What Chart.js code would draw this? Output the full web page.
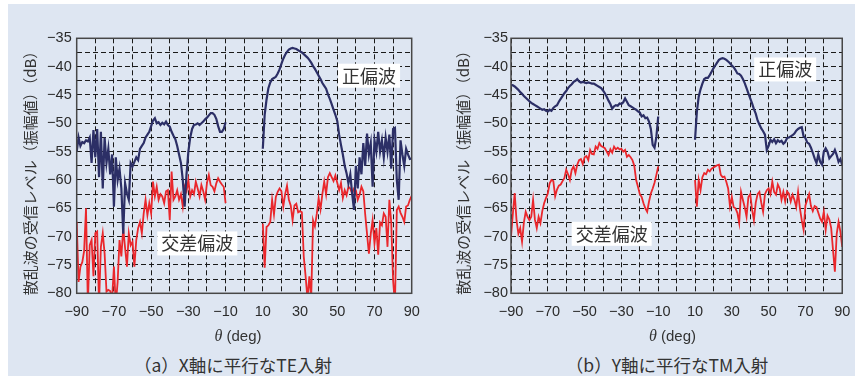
<!DOCTYPE html>
<html lang="ja">
<head>
<meta charset="utf-8">
<title>散乱波の受信レベル</title>
<script src="https://cdn.jsdelivr.net/npm/chart.js@4.4.1/dist/chart.umd.min.js"></script>
<style>
  html, body { margin: 0; padding: 0; background: #ffffff; }
  body { position: relative; width: 860px; height: 378px; overflow: hidden; }
  #backdrop { position: absolute; left: 8px; top: 4px; width: 847px; height: 372px; background: #dee6f2; }
  canvas { position: absolute; top: 4px; }
  #chartA { left: 8px; }
  #chartB { left: 430px; }
  .caption { position: absolute; top: 356px; width: 300px; text-align: center;
             font-family: "Noto Sans CJK JP", sans-serif; font-size: 17.5px; line-height: 18px;
             color: #333333; white-space: nowrap; }
  #capA { left: 83px; }
  #capB { left: 517px; }
</style>
</head>
<body>
<div id="backdrop"></div>
<canvas id="chartA" width="422" height="345"></canvas>
<canvas id="chartB" width="430" height="345"></canvas>
<div class="caption" id="capA">（a）X軸に平行なTE入射</div>
<div class="caption" id="capB">（b）Y軸に平行なTM入射</div>
<script>
// Observation angles (deg); the range -10..10 was not measured
const thetaNeg = [-90,-89,-88,-87,-86,-85,-84,-83,-82,-81,-80,-79,-78,-77,-76,-75,-74,-73,-72,-71,
  -70,-69,-68,-67,-66,-65,-64,-63,-62,-61,-60,-59,-58,-57,-56,-55,-54,-53,-52,-51,
  -50,-49,-48,-47,-46,-45,-44,-43,-42,-41,-40,-39,-38,-37,-36,-35,-34,-33,-32,-31,
  -30,-29,-28,-27,-26,-25,-24,-23,-22,-21,-20,-19,-18,-17,-16,-15,-14,-13,-12,-11,-10];
const thetaPos = [10,11,12,13,14,15,16,17,18,19,20,21,22,23,24,25,26,27,28,29,
  30,31,32,33,34,35,36,37,38,39,40,41,42,43,44,45,46,47,48,49,
  50,51,52,53,54,55,56,57,58,59,60,61,62,63,64,65,66,67,68,69,
  70,71,72,73,74,75,76,77,78,79,80,81,82,83,84,85,86,87,88,89,90];

// (a) TE incidence, wire parallel to X : co-polarised level (dB)
const teCoNeg = [-55,-52.5,-54,-53.3,-53.5,-53,-53.2,-52.5,-57,-51.2,
  -56,-51,-59.5,-51.5,-61.5,-52.5,-57,-54.5,-59,-55.5,
  -64.7,-56,-60,-58,-61.5,-69.5,-60.6,-62.4,-63.5,-57,
  -57.6,-56.8,-56,-56.5,-54.5,-54,-53.5,-52.5,-52,-51.5,
  -50.5,-49.5,-49.1,-50,-49.8,-50.3,-49.9,-50.2,-49.7,-50.3,
  -50.6,-51.5,-52.2,-52.8,-54,-55.5,-57,-60,-64.7,-59,
  -55,-52.5,-51,-50.3,-50.2,-50,-50.3,-50,-49.7,-49.3,
  -49,-48.6,-48.2,-48.2,-48.5,-49.2,-50.5,-51.5,-51.5,-51,
  -49.8];
const teCoPos = [-54.5,-48.5,-45.8,-43.8,-42.8,-42.2,-42,-41.8,-41.2,-40.5,
  -39.5,-38.6,-37.9,-37.4,-37,-36.8,-36.7,-36.8,-36.9,-37.1,
  -37.3,-37.5,-37.8,-38.1,-38.4,-38.8,-39.3,-39.9,-40.4,-41,
  -41.6,-42.2,-42.9,-43.4,-43.9,-44.9,-45.7,-46.6,-47.6,-48.5,
  -49.6,-52,-53.8,-55.5,-57.5,-58.8,-60.6,-59,-62.4,-65.3,
  -57.5,-61.5,-56,-59,-53.5,-57.5,-51.8,-55.5,-53.5,-61.2,
  -53,-55,-51.5,-55,-53,-56,-52.5,-55,-52,-58,
  -51,-50.8,-60,-63.5,-53,-55.5,-57.5,-54.5,-55.5,-56.3,
  -56.2];
// (a) cross-polarised level (dB)
const teCrossNeg = [-67.4,-78,-75.3,-74.5,-72.5,-65,-82,-71.5,-70.6,-77,
  -69.4,-69.1,-82,-71.8,-69.4,-73,-79.7,-79.4,-79.6,-81,
  -75.3,-82,-78,-70.6,-73.5,-68.5,-72,-75.3,-69.4,-71.5,
  -70.9,-75.3,-70.6,-68.5,-67.4,-69.4,-65.9,-63.5,-66.2,-64.1,
  -65.9,-60.3,-62.9,-61.2,-63.5,-62.5,-62.9,-64.1,-62,-61.8,
  -67.1,-58.5,-63.5,-62.9,-61.8,-63.5,-62.5,-64.7,-61.2,-62,
  -60,-62.9,-61.8,-62.5,-60.3,-61.5,-62.9,-60.9,-62,-63.5,
  -60.5,-59.1,-60.9,-61.2,-62,-60.6,-59.7,-60.3,-60.8,-61.2,
  -64.1];
const teCrossPos = [-67.7,-75.5,-68.3,-68,-67.4,-63.5,-66.1,-63,-62.1,-61.5,
  -62,-64.7,-62.5,-61,-63.5,-64.5,-67.1,-64.5,-64.2,-65.7,
  -65.5,-65.7,-73.5,-77,-81,-77,-81,-67.1,-68.2,-66,
  -63.2,-65.2,-62.5,-60.3,-62.5,-59.5,-58.8,-59.5,-60.2,-59.2,
  -60.5,-61.8,-60.5,-63.2,-61.8,-62.7,-61.2,-61.5,-62.4,-61.5,
  -61.8,-63.5,-62.6,-61.2,-62,-66,-69.5,-73,-69.5,-67.1,
  -71.2,-68.5,-73.2,-67.5,-68,-65.9,-66.5,-71.8,-63.5,-67.5,
  -77.7,-82,-65.3,-64.7,-65.8,-66.5,-67.4,-64.7,-64.5,-63.5,
  -62.8];

// (b) TM incidence, wire parallel to Y : co-polarised level (dB)
const tmCoNeg = [-43.2,-43.3,-43.5,-43.8,-44.1,-44.5,-44.8,-45.2,-45.5,-45.8,
  -46.1,-46.4,-46.6,-46.8,-47,-47.2,-47.4,-47.6,-47.5,-47.8,
  -47.9,-47.6,-47.8,-47.3,-47,-46.8,-46.2,-45.7,-45.2,-44.7,
  -44.3,-43.8,-43.4,-43.1,-42.7,-42.5,-42.2,-42.6,-42.8,-42.7,
  -42.8,-42.9,-42.8,-42.9,-43,-43,-43.2,-43.4,-43.6,-43.8,
  -44.2,-44.7,-45.3,-46,-46.6,-47.4,-47,-46.8,-46.9,-46.5,
  -46.6,-46.3,-45.6,-46.2,-46.8,-47,-47.2,-47.4,-47.6,-47.9,
  -48.1,-48.8,-48.6,-49.1,-49,-49.7,-51,-53.8,-54.3,-52.4,
  -48.8];
const tmCoPos = [-52.9,-48,-45.3,-44,-43,-42.2,-42,-42,-41.5,-40.9,
  -40.3,-39.8,-39.3,-38.8,-38.6,-38.5,-38.6,-38.8,-39.1,-39.4,
  -39.8,-40.1,-40.6,-41.2,-41.3,-41.6,-42.2,-42.9,-43.8,-44.7,
  -45.6,-46.5,-47.5,-48.3,-49.5,-50.2,-50.9,-51.4,-52,-54.7,
  -54,-52.9,-53.3,-52.8,-53.5,-53,-53.3,-53.1,-53.6,-53.3,
  -52.6,-52.5,-52.3,-52.1,-51.8,-51.3,-51,-50.8,-50.7,-52.3,
  -52.6,-53.4,-53.6,-54.3,-55.2,-56.2,-57,-55.5,-56.8,-57.3,
  -55,-54.4,-55,-56.2,-55.8,-55.4,-54.7,-55.6,-56.8,-56.3,
  -57.4];
// (b) cross-polarised level (dB)
const tmCrossNeg = [-70,-66,-62.3,-67.1,-69.5,-68.5,-70.9,-67.5,-65.6,-66.5,
  -67.1,-66.5,-63.5,-67,-68.5,-66.5,-67.6,-65.5,-64.1,-63.2,
  -62.4,-60.6,-60,-60.2,-62.9,-61.7,-61,-60.8,-60.2,-59.7,
  -58.2,-59,-60,-58.2,-57.6,-58.8,-57.3,-56.5,-56.3,-57.2,
  -56,-55.8,-56.5,-54.7,-55.4,-55.5,-54.1,-54.5,-53.5,-54,
  -54.2,-54.4,-55,-55.6,-54.6,-55.2,-54.1,-54.6,-54.3,-54.6,
  -54.5,-55,-54.7,-55.9,-55.6,-56,-56.5,-57.5,-60,-61.2,
  -62.5,-63,-64.1,-65,-65.6,-63.8,-62.4,-61.5,-60.5,-59.1,
  -57.6];
const tmCrossPos = [-60,-64.7,-60,-61.8,-59.5,-58.8,-59,-58.2,-58.5,-58,
  -57.8,-57.6,-57.4,-57.3,-59.1,-59.5,-59.4,-60.3,-61.5,-64.7,
  -63,-64.8,-65,-65.8,-67.6,-62.1,-63.5,-64.8,-66.5,-63,
  -62.5,-65.2,-67.1,-64,-62.5,-62.1,-64,-65.6,-62.5,-61.8,
  -61.5,-62.5,-60.3,-62.1,-62.6,-60.8,-61.5,-63.5,-62.1,-63.8,
  -62,-62.4,-63.8,-62.6,-63.5,-64.8,-62.1,-65,-67.1,-68.8,
  -64.5,-63.5,-62.5,-64.6,-65.5,-64.6,-64.8,-65.8,-66.8,-67.4,
  -65.6,-68.8,-66.3,-67,-68.5,-72.4,-76.2,-69.5,-67.4,-69.1,
  -71.8];

const NAVY = '#2c2f66';
const RED = '#ea272c';
const INK = '#333333';
const MINUS = '\u2212';
const Y_TITLE = '散乱波の受信レベル（振幅値）（dB）';

Chart.defaults.font.family = "'Liberation Sans', Arial, sans-serif";

const fmt = v => (v < 0 ? MINUS + Math.abs(v) : String(v));

// two measured halves joined by a null so the line breaks across the gap
function joinHalves(neg, pos) {
  const pts = neg.map((v, i) => ({ x: thetaNeg[i], y: v }));
  pts.push({ x: 0, y: null });
  pos.forEach((v, i) => pts.push({ x: thetaPos[i], y: v }));
  return pts;
}

// plot frame, in-plot series names, and the axis titles
const frameAndText = {
  id: 'frameAndText',
  beforeDatasetsDraw(chart, _args, o) {
    const { ctx, scales: { x, y } } = chart;
    ctx.save();
    ctx.font = '18px "Noto Sans CJK JP"';
    ctx.textAlign = 'center';
    ctx.textBaseline = 'middle';
    for (const n of o.notes) {
      const px = x.getPixelForValue(n.at[0]);
      const py = y.getPixelForValue(n.at[1]);
      const w = ctx.measureText(n.text).width;
      ctx.fillStyle = '#ffffff';
      ctx.fillRect(px - w / 2 - 4, py - 12, w + 8, 24);
      ctx.fillStyle = INK;
      ctx.fillText(n.text, px, py);
    }
    ctx.restore();
  },
  afterDraw(chart, _args, o) {
    const { ctx, chartArea: a } = chart;
    ctx.save();
    ctx.strokeStyle = '#474747';
    ctx.lineWidth = 1.5;
    ctx.strokeRect(a.left, a.top, a.right - a.left, a.bottom - a.top);

    ctx.fillStyle = INK;
    ctx.textAlign = 'center';
    ctx.textBaseline = 'middle';
    ctx.save();
    ctx.translate(o.yTitle.x, o.yTitle.y);
    ctx.rotate(-Math.PI / 2);
    ctx.font = '15px "Noto Sans CJK JP"';
    ctx.fillText(Y_TITLE, 0, 0);
    ctx.restore();

    const th = 'θ', unit = ' (deg)';
    const thFont = 'italic 16px "Liberation Serif"';
    const unitFont = '15px "Liberation Sans"';
    ctx.font = thFont;
    const wTh = ctx.measureText(th).width;
    ctx.font = unitFont;
    const wU = ctx.measureText(unit).width;
    const sx = o.xTitle.x - (wTh + wU) / 2;
    ctx.textAlign = 'left';
    ctx.font = thFont;
    ctx.fillText(th, sx, o.xTitle.y);
    ctx.font = unitFont;
    ctx.fillText(unit, sx + wTh, o.xTitle.y);
    ctx.restore();
  }
};

function makePanel(id, co, cross, lay) {
  const gridStyle = { color: '#1a1a1a', lineWidth: 1, drawTicks: false };
  const borderStyle = { display: false, dash: [5, 3] };
  return new Chart(document.getElementById(id), {
    type: 'line',
    data: {
      datasets: [
        { label: '正偏波', data: joinHalves(co.neg, co.pos), borderColor: NAVY, borderWidth: 2.2,
          pointRadius: 0, tension: 0, spanGaps: false },
        { label: '交差偏波', data: joinHalves(cross.neg, cross.pos), borderColor: RED, borderWidth: 1.8,
          pointRadius: 0, tension: 0, spanGaps: false }
      ]
    },
    options: {
      responsive: false,
      animation: false,
      events: [],
      layout: { padding: { left: 0, top: 34.3, right: lay.right, bottom: 0 } },
      plugins: {
        legend: { display: false },
        tooltip: { enabled: false },
        frameAndText: { notes: lay.notes, yTitle: lay.yTitle, xTitle: lay.xTitle }
      },
      scales: {
        x: {
          type: 'linear', min: -90, max: 90,
          afterFit: s => { s.height = 55.7; },
          ticks: { stepSize: 10, autoSkip: false, maxRotation: 0, minRotation: 0, padding: 9.7,
                   color: '#2b2b2b', font: { size: 14.5 },
                   callback: v => ((v + 90) % 20 === 0 ? fmt(v) : '') },
          grid: gridStyle,
          border: borderStyle
        },
        y: {
          type: 'linear', min: -80, max: -35,
          afterFit: s => { s.width = lay.yWidth; },
          ticks: { stepSize: 2.5, autoSkip: false, padding: lay.yPad,
                   color: '#2b2b2b', font: { size: 14.5 },
                   callback: v => (v % 5 === 0 ? fmt(v) : '') },
          grid: gridStyle,
          border: borderStyle
        }
      }
    },
    plugins: [frameAndText]
  });
}

makePanel('chartA',
  { neg: teCoNeg, pos: teCoPos },
  { neg: teCrossNeg, pos: teCrossPos },
  { yWidth: 68.7, right: 18.3, yPad: 5,
    yTitle: { x: 22, y: 165.5 }, xTitle: { x: 230, y: 333 },
    notes: [ { text: '正偏波', at: [67.1, -41.6] }, { text: '交差偏波', at: [-25.2, -71.2] } ] });

makePanel('chartB',
  { neg: tmCoNeg, pos: tmCoPos },
  { neg: tmCrossNeg, pos: tmCrossPos },
  { yWidth: 81, right: 13.3, yPad: 3,
    yTitle: { x: 33.3, y: 165 }, xTitle: { x: 242.5, y: 332.7 },
    notes: [ { text: '正偏波', at: [59, -40.5] }, { text: '交差偏波', at: [-35.3, -69.5] } ] });
</script>
</body>
</html>
